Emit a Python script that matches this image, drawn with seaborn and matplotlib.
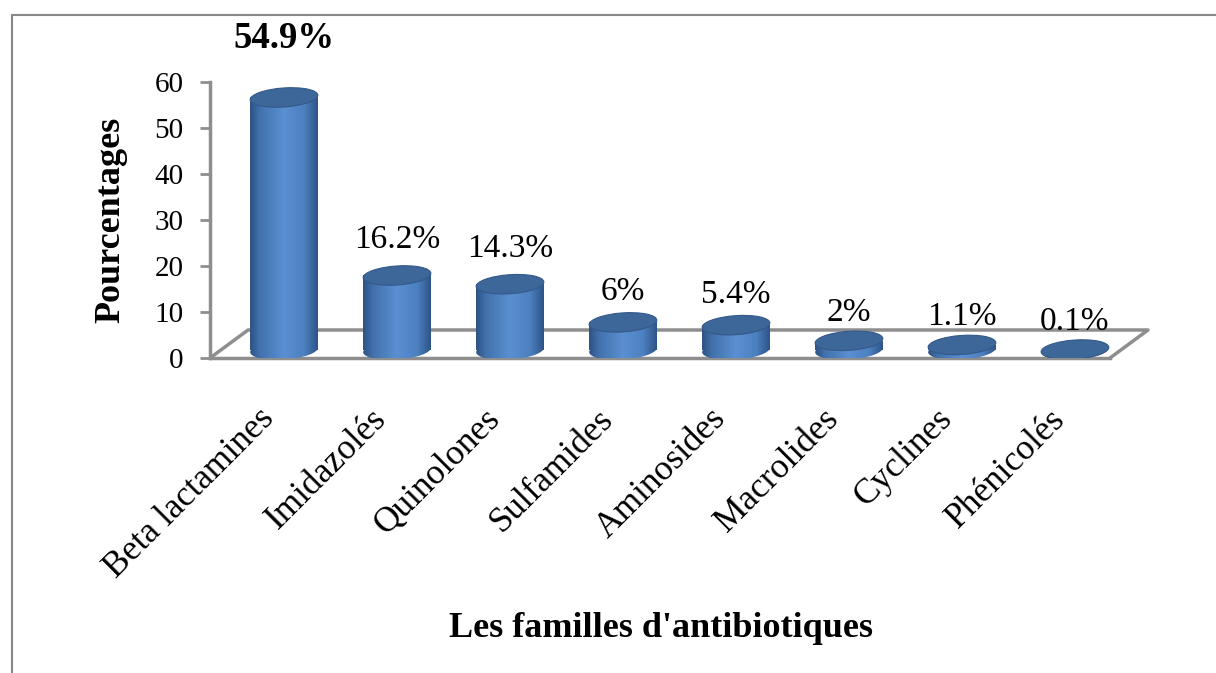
import numpy as np
import matplotlib
matplotlib.use("Agg")
import matplotlib.pyplot as plt
import matplotlib.transforms as mtransforms
from matplotlib.patches import Ellipse
from matplotlib.lines import Line2D
from matplotlib.colors import LinearSegmentedColormap
import seaborn as sns
import pandas as pd

# ---------------- data ----------------
categories = ["Beta lactamines", "Imidazolés", "Quinolones", "Sulfamides",
              "Aminosides", "Macrolides", "Cyclines", "Phénicolés"]
values = [54.9, 16.2, 14.3, 6, 5.4, 2, 1.1, 0.1]
value_labels = ["54.9%", "16.2%", "14.3%", "6%", "5.4%", "2%", "1.1%", "0.1%"]
y_ticks = [0, 10, 20, 30, 40, 50, 60]

# ---------------- style ----------------
sns.set_theme(style="white")
plt.rcParams["font.family"] = ["Liberation Serif", "DejaVu Serif"]

W, H = 1216, 673
DPI = 100
fig = plt.figure(figsize=(W / DPI, H / DPI), dpi=DPI)
fig.patch.set_facecolor("white")


def px_axes(l, t, r, b):
    return [l / W, 1 - b / H, (r - l) / W, (b - t) / H]


ax = fig.add_axes(px_axes(210, 82, 1110, 358))
ax.set_facecolor("none")

df = pd.DataFrame({"famille": categories, "pct": values})
BAR_W = 0.6
sns.barplot(data=df, x="famille", y="pct", color="#4F81BD", width=BAR_W,
            saturation=1, linewidth=0, ax=ax, zorder=3)

ax.set_xlim(-0.655, 7.31)
ax.set_ylim(0, 60)
ax.set_yticks(y_ticks)
ax.set_yticklabels([str(t) for t in y_ticks], fontsize=21, color="black")

GRAY = "#8E8E8E"
for side in ["top", "right"]:
    ax.spines[side].set_visible(False)
for side in ["left", "bottom"]:
    ax.spines[side].set_color(GRAY)
    ax.spines[side].set_linewidth(2.5)
ax.tick_params(axis="y", direction="out", length=7, width=2, color=GRAY, pad=12, left=True)
ax.tick_params(axis="x", length=0, pad=44)
ax.set_xticks(range(len(categories)))
ax.set_xticklabels(categories, rotation=45, ha="right", va="center",
                   rotation_mode="anchor", fontsize=25.5, color="black")
lab_shift = mtransforms.ScaledTranslation(-0.15, 0.05, fig.dpi_scale_trans)
for lab in ax.get_xticklabels():
    lab.set_transform(lab.get_transform() + lab_shift)
ax.grid(False)

# ---------------- 3D look ----------------
lift = mtransforms.ScaledTranslation(0, 0.08, fig.dpi_scale_trans)   # depth offset of bars
bar_trans = ax.transData + lift

cyl_cmap = LinearSegmentedColormap.from_list(
    "cyl", [(0.0, "#2E5283"), (0.15, "#4272AD"), (0.5, "#5A8FD2"),
            (0.8, "#4C80C0"), (1.0, "#2E5487")])
grad = np.linspace(0, 1, 256)[None, :]

fig.canvas.draw()
px_per_x = ax.transData.transform((1, 0))[0] - ax.transData.transform((0, 0))[0]
ell_w_in = BAR_W * px_per_x / DPI
ell_h_in = 0.19
ell_angle = 4

bars = list(ax.patches)
for i, (p, v) in enumerate(zip(bars, values)):
    cx = p.get_x() + p.get_width() / 2
    p.set_transform(bar_trans)
    p.set_facecolor("none")
    # cylinder body gradient
    im = ax.imshow(grad, extent=[p.get_x(), p.get_x() + p.get_width(), 0, max(v, 0.01)],
                   aspect="auto", cmap=cyl_cmap, interpolation="bilinear", zorder=3)
    im.set_transform(bar_trans)
    im.set_clip_path(p)
    # bottom ellipse
    base_t = fig.dpi_scale_trans + mtransforms.ScaledTranslation(cx, 0, ax.transData) + lift
    bot = Ellipse((0, 0), ell_w_in, ell_h_in, angle=ell_angle, transform=base_t,
                  facecolor="none", edgecolor="none")
    ax.add_patch(bot)
    im2 = ax.imshow(grad, extent=[p.get_x(), p.get_x() + p.get_width(), -3, 3],
                    aspect="auto", cmap=cyl_cmap, interpolation="bilinear", zorder=2.9)
    im2.set_transform(bar_trans)
    im2.set_clip_path(bot)
    # top ellipse
    top_t = fig.dpi_scale_trans + mtransforms.ScaledTranslation(cx, v, ax.transData) + lift
    top = Ellipse((0, 0), ell_w_in, ell_h_in, angle=ell_angle, transform=top_t,
                  facecolor="#3D6699", edgecolor="#34598A", linewidth=0.8, zorder=4)
    ax.add_patch(top)
    # value label
    off_px = 8 + 19 + 0.55 * v
    is_max = i == 0
    ax.annotate(value_labels[i], xy=(cx, v), xytext=(0, off_px * 0.72),
                textcoords="offset points", ha="center", va="baseline",
                fontsize=26.5 if is_max else 24, fontweight="bold" if is_max else "normal",
                color="black", zorder=6, annotation_clip=False)

ax.set_xlim(-0.655, 7.31)
ax.set_ylim(0, 60)

# floor (back edge and sides), drawn behind the bars
inv = fig.transFigure.inverted()
xl, xr = ax.get_xlim()
p0 = ax.transData.transform((xl, 0))
p1 = ax.transData.transform((xr, 0))
dx, dy = 38, 28
pts = [p0, p0 + (dx, dy), p1 + (dx, dy), p1]
fp = inv.transform(np.array(pts))
fig.add_artist(Line2D(fp[:, 0], fp[:, 1], color=GRAY, linewidth=2.5, zorder=-1))

# axis labels
ax.set_ylabel("Pourcentages", fontsize=26, fontweight="bold", color="black")
ax.yaxis.set_label_coords((127 - 210) / 900, 0.5)
ax.set_xlabel("Les familles d'antibiotiques", fontsize=26, fontweight="bold", color="black")
ax.xaxis.label.set_va("baseline")
ax.xaxis.set_label_coords((661 - 210) / 900, (358 - 637) / 276)

# outer chart frame
fig.add_artist(Line2D([12 / W, 12 / W], [0, 1 - 15 / H], color="#888888", linewidth=1.5))
fig.add_artist(Line2D([12 / W, 1], [1 - 15 / H, 1 - 15 / H], color="#888888", linewidth=1.5))

fig.savefig("out.png", dpi=DPI, facecolor="white")
